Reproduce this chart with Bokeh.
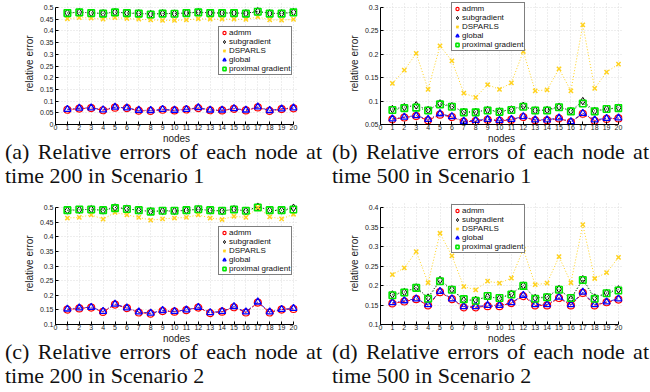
from bokeh.plotting import figure
from bokeh.models import Range1d, FixedTicker, NumeralTickFormatter, Legend, LegendItem, Div
from bokeh.layouts import column, row
from bokeh.embed import file_html
from bokeh.resources import INLINE

# ---------------- data ----------------
nodes = [1, 2, 3, 4, 5, 6, 7, 8, 9, 10, 11, 12, 13, 14, 15, 16, 17, 18, 19, 20]
x_ticks = [0, 1, 2, 3, 4, 5, 6, 7, 8, 9, 10, 11, 12, 13, 14, 15, 16, 17, 18, 19, 20]

series_names = ["admm", "subgradient", "DSPARLS", "global", "proximal gradient"]

# (a) time 200, Scenario 1
a_admm = [0.063, 0.068, 0.070, 0.061, 0.072, 0.070, 0.059, 0.058, 0.063, 0.060, 0.064, 0.070, 0.061, 0.060, 0.067, 0.060, 0.073, 0.058, 0.066, 0.069]
a_sub = [0.477, 0.480, 0.477, 0.475, 0.480, 0.477, 0.475, 0.472, 0.475, 0.474, 0.477, 0.480, 0.477, 0.477, 0.477, 0.475, 0.484, 0.475, 0.475, 0.480]
a_dsparls = [0.452, 0.457, 0.455, 0.450, 0.457, 0.453, 0.450, 0.447, 0.445, 0.445, 0.447, 0.452, 0.450, 0.450, 0.450, 0.449, 0.460, 0.447, 0.446, 0.449]
a_global = [0.065, 0.070, 0.071, 0.063, 0.074, 0.071, 0.061, 0.060, 0.065, 0.061, 0.065, 0.072, 0.062, 0.062, 0.068, 0.062, 0.075, 0.060, 0.067, 0.071]
a_prox = [0.476, 0.479, 0.476, 0.474, 0.479, 0.476, 0.474, 0.470, 0.474, 0.473, 0.476, 0.479, 0.476, 0.476, 0.476, 0.474, 0.482, 0.474, 0.474, 0.479]
a_yticks = [0, 0.05, 0.1, 0.15, 0.2, 0.25, 0.3, 0.35, 0.4, 0.45, 0.5]

# (b) time 500, Scenario 1
b_admm = [0.061, 0.065, 0.068, 0.059, 0.071, 0.066, 0.056, 0.057, 0.060, 0.058, 0.060, 0.066, 0.059, 0.059, 0.063, 0.055, 0.073, 0.058, 0.062, 0.063]
b_sub = [0.083, 0.087, 0.091, 0.081, 0.095, 0.089, 0.077, 0.077, 0.081, 0.078, 0.082, 0.090, 0.080, 0.081, 0.088, 0.079, 0.100, 0.079, 0.083, 0.086]
b_dsparls = [0.138, 0.166, 0.202, 0.125, 0.218, 0.186, 0.117, 0.108, 0.135, 0.125, 0.139, 0.206, 0.122, 0.124, 0.169, 0.122, 0.263, 0.127, 0.162, 0.179]
b_global = [0.062, 0.066, 0.069, 0.061, 0.073, 0.067, 0.057, 0.059, 0.061, 0.059, 0.061, 0.067, 0.060, 0.060, 0.064, 0.056, 0.074, 0.060, 0.063, 0.064]
b_prox = [0.081, 0.085, 0.086, 0.080, 0.093, 0.088, 0.076, 0.076, 0.080, 0.077, 0.081, 0.088, 0.080, 0.080, 0.087, 0.078, 0.095, 0.078, 0.083, 0.085]
b_yticks = [0.05, 0.1, 0.15, 0.2, 0.25, 0.3]

# (c) time 200, Scenario 2
c_admm = [0.151, 0.155, 0.158, 0.143, 0.168, 0.156, 0.141, 0.137, 0.146, 0.144, 0.149, 0.158, 0.139, 0.144, 0.159, 0.141, 0.175, 0.141, 0.151, 0.153]
c_sub = [0.490, 0.492, 0.494, 0.490, 0.500, 0.496, 0.490, 0.487, 0.488, 0.488, 0.490, 0.494, 0.490, 0.488, 0.494, 0.488, 0.503, 0.490, 0.490, 0.499]
c_dsparls = [0.464, 0.466, 0.475, 0.460, 0.483, 0.475, 0.466, 0.457, 0.461, 0.464, 0.466, 0.475, 0.464, 0.459, 0.470, 0.466, 0.500, 0.468, 0.461, 0.477]
c_global = [0.153, 0.157, 0.159, 0.145, 0.170, 0.157, 0.143, 0.139, 0.148, 0.145, 0.150, 0.159, 0.141, 0.145, 0.161, 0.143, 0.177, 0.143, 0.152, 0.155]
c_prox = [0.491, 0.493, 0.493, 0.491, 0.498, 0.495, 0.491, 0.486, 0.489, 0.489, 0.491, 0.494, 0.491, 0.489, 0.493, 0.489, 0.500, 0.491, 0.491, 0.493]
c_yticks = [0.1, 0.15, 0.2, 0.25, 0.3, 0.35, 0.4, 0.45, 0.5]

# (d) time 500, Scenario 2
d_admm = [0.154, 0.159, 0.165, 0.149, 0.183, 0.165, 0.144, 0.144, 0.147, 0.147, 0.155, 0.173, 0.149, 0.149, 0.168, 0.149, 0.181, 0.149, 0.157, 0.164]
d_sub = [0.177, 0.183, 0.195, 0.169, 0.214, 0.190, 0.162, 0.163, 0.171, 0.167, 0.179, 0.200, 0.168, 0.171, 0.191, 0.165, 0.216, 0.169, 0.181, 0.190]
d_dsparls = [0.228, 0.245, 0.287, 0.207, 0.334, 0.276, 0.197, 0.189, 0.211, 0.206, 0.219, 0.293, 0.202, 0.206, 0.274, 0.207, 0.356, 0.218, 0.233, 0.272]
d_global = [0.156, 0.161, 0.166, 0.151, 0.185, 0.166, 0.146, 0.146, 0.149, 0.149, 0.156, 0.175, 0.151, 0.151, 0.170, 0.151, 0.183, 0.151, 0.158, 0.166]
d_prox = [0.175, 0.182, 0.194, 0.166, 0.211, 0.189, 0.165, 0.161, 0.173, 0.168, 0.177, 0.199, 0.166, 0.170, 0.189, 0.168, 0.214, 0.166, 0.180, 0.187]
d_yticks = [0.1, 0.15, 0.2, 0.25, 0.3, 0.35, 0.4]

captions = [
    "(a) Relative errors of each node at time 200 in Scenario 1",
    "(b) Relative errors of each node at time 500 in Scenario 1",
    "(c) Relative errors of each node at time 200 in Scenario 2",
    "(d) Relative errors of each node at time 500 in Scenario 2",
]

# ---------------- styles ----------------
STY = [
    dict(marker="circle", color="#ff0000", size=7, lw=1.2, dash="3 2", line_color="#ff0000"),
    dict(marker="diamond", color="#000000", size=7.5, lw=1.0, dash="1 2", line_color="#000000"),
    dict(marker="x", color="#ffd21f", size=6, lw=1.5, dash="1 2", line_color="#ffd21f"),
    dict(marker="triangle", color="#0000ff", size=7, lw=1.3, dash="4 2 1 2", line_color="#3a1fd0"),
    dict(marker="square", color="#00e600", size=6.5, lw=1.6, dash="1 4", line_color="#00c000"),
]
SANS = "Liberation Sans"
FRAME_W, FRAME_H = 242, 122     # frame includes a few px of breathing room past the axis ends
AX_W, AX_H = 238, 117           # pixel length of the drawn axes
FIG_H = 147


def panel(vals, ylo, yhi, yticks, legend_loc):
    x_end = x_ticks[-1] * FRAME_W / AX_W
    y_end = ylo + (yhi - ylo) * FRAME_H / AX_H
    p = figure(width=325, height=FIG_H, x_range=Range1d(0, x_end), y_range=Range1d(ylo, y_end),
               output_backend="svg", toolbar_location=None,
               min_border_left=55, min_border_right=28, min_border_top=2, min_border_bottom=23)
    p.outline_line_color = None
    p.background_fill_color = "white"
    p.border_fill_color = "white"

    renderers = []
    for name, ys, st in zip(series_names, vals, STY):
        p.line(nodes, ys, line_color=st["line_color"], line_width=1, line_dash=st["dash"])
        r = p.scatter(nodes, ys, marker=st["marker"], size=st["size"], line_color=st["color"],
                      fill_color=None, line_width=st["lw"])
        renderers.append((name, r))

    xt = FixedTicker(ticks=x_ticks)
    yt = FixedTicker(ticks=yticks)
    p.xaxis.ticker = xt
    p.yaxis.ticker = yt
    p.xgrid.ticker = xt
    p.ygrid.ticker = yt
    p.xaxis.bounds = (x_ticks[0], x_ticks[-1])
    p.yaxis.bounds = (ylo, yhi)
    p.yaxis.formatter = NumeralTickFormatter(format="0.[00]")
    for ax in (p.xaxis[0], p.yaxis[0]):
        ax.major_tick_in = 3
        ax.major_tick_out = 0
        ax.minor_tick_in = 0
        ax.minor_tick_out = 0
        ax.axis_line_color = "black"
        ax.major_tick_line_color = "black"
        ax.major_label_text_font = SANS
        ax.major_label_text_font_size = "7px"
        ax.major_label_text_color = "#222222"
        ax.axis_label_text_font = SANS
        ax.axis_label_text_font_style = "normal"
        ax.axis_label_text_font_size = "10px"
        ax.axis_label_text_color = "#222222"
    p.xaxis.axis_label = "nodes"
    p.yaxis.axis_label = "relative error"
    p.xaxis.major_label_standoff = 0
    p.xaxis.axis_label_standoff = 0
    p.yaxis.major_label_standoff = 2
    p.yaxis.axis_label_standoff = 2
    for g in (p.xgrid[0], p.ygrid[0]):
        g.grid_line_color = "#dcdcdc"
        g.grid_line_dash = "1 2"
        g.grid_line_width = 1

    legend = Legend(items=[LegendItem(label=n, renderers=[r]) for n, r in renderers],
                    location=legend_loc)
    legend.label_text_font = SANS
    legend.label_text_font_size = "8px"
    legend.label_text_color = "#111111"
    legend.glyph_width = 8
    legend.glyph_height = 9
    legend.label_height = 9
    legend.label_standoff = 1
    legend.spacing = 0
    legend.padding = 1
    legend.margin = 0
    legend.border_line_color = "black"
    legend.border_line_width = 1
    legend.background_fill_alpha = 1
    p.add_layout(legend)
    return p


def caption(txt, lpad, h):
    html = ('<div style="font-family: \'Liberation Serif\', \'Times New Roman\', serif; font-size: 22px; '
            'line-height: 24px; text-align: justify; color: #111; width: 317px; '
            f'margin: -7px 0 0 {lpad}px;">{txt}</div>')
    return Div(text=html, width=325, height=h, margin=0)


pa = panel([a_admm, a_sub, a_dsparls, a_global, a_prox], 0, 0.5, a_yticks, (163, 49))
pb = panel([b_admm, b_sub, b_dsparls, b_global, b_prox], 0.05, 0.3, b_yticks, (71, 73))
pc = panel([c_admm, c_sub, c_dsparls, c_global, c_prox], 0.1, 0.5, c_yticks, (163, 49))
pd = panel([d_admm, d_sub, d_dsparls, d_global, d_prox], 0.1, 0.4, d_yticks, (71, 71))

layout = column(
    row(pa, pb, spacing=0),
    row(caption(captions[0], 5, 200 - FIG_H), caption(captions[1], 7, 200 - FIG_H), spacing=0),
    row(pc, pd, spacing=0),
    row(caption(captions[2], 5, 192 - FIG_H), caption(captions[3], 7, 192 - FIG_H), spacing=0),
    spacing=0,
)

open("out.html", "w").write(file_html(layout, INLINE))
